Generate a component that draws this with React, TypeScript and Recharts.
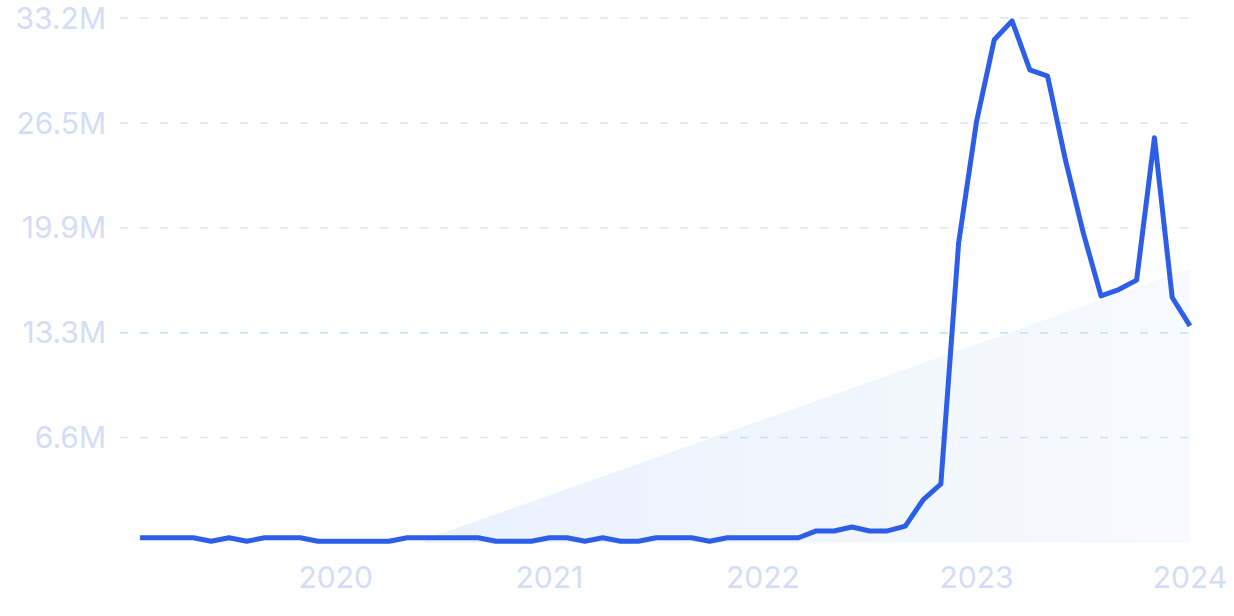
import { Area, CartesianGrid, ComposedChart, Line, ReferenceLine, XAxis, YAxis } from 'recharts';

// monthly points, Feb 2019 .. Jan 2024
const months = [
  '2019-02', '2019-03', '2019-04', '2019-05', '2019-06', '2019-07', '2019-08', '2019-09', '2019-10', '2019-11', '2019-12',
  '2020-01', '2020-02', '2020-03', '2020-04', '2020-05', '2020-06', '2020-07', '2020-08', '2020-09', '2020-10', '2020-11', '2020-12',
  '2021-01', '2021-02', '2021-03', '2021-04', '2021-05', '2021-06', '2021-07', '2021-08', '2021-09', '2021-10', '2021-11', '2021-12',
  '2022-01', '2022-02', '2022-03', '2022-04', '2022-05', '2022-06', '2022-07', '2022-08', '2022-09', '2022-10', '2022-11', '2022-12',
  '2023-01', '2023-02', '2023-03', '2023-04', '2023-05', '2023-06', '2023-07', '2023-08', '2023-09', '2023-10', '2023-11', '2023-12',
  '2024-01',
];

// values in millions
const values = [
  0.3, 0.3, 0.3, 0.3, 0.08, 0.3, 0.08, 0.3, 0.3, 0.3, 0.08,
  0.08, 0.08, 0.08, 0.08, 0.3, 0.3, 0.3, 0.3, 0.3, 0.08, 0.08, 0.08,
  0.3, 0.3, 0.08, 0.3, 0.08, 0.08, 0.3, 0.3, 0.3, 0.08, 0.3, 0.3,
  0.3, 0.3, 0.3, 0.73, 0.73, 0.98, 0.73, 0.73, 1.04, 2.69, 3.7, 18.96,
  26.6, 31.8, 33.0, 29.9, 29.5, 24.2, 19.6, 15.6, 16.0, 16.6, 25.6, 15.5,
  13.7,
];

// trend band: start and end of the shaded wedge
const trendStartIndex = 16;
const trendStart = 0.2;
const trendEndIndex = 59;
const trendEnd = 17.33;

const yTicks = [6.636, 13.272, 19.908, 26.544, 33.18];
const yearTicks = ['2020-01', '2021-01', '2022-01', '2023-01', '2024-01'];

const data = months.map((month, i) => ({
  month,
  value: values[i],
  trend: i === trendStartIndex ? trendStart : i === trendEndIndex ? trendEnd : null,
}));

const tickStyle = { fill: '#d3ddf5', fontSize: 30, fontFamily: 'Inter, sans-serif' };

export default function App() {
  return (
    <div>
      <style>{'body{margin:0}'}</style>
      <ComposedChart width={1234} height={616} data={data} margin={{ top: 18, right: 44, bottom: 23.5, left: 0 }}>
        <defs>
          <linearGradient id="trendFill" gradientUnits="userSpaceOnUse" x1={416} y1={0} x2={1190} y2={0}>
            <stop offset="0%" stopColor="#3c82eb" stopOpacity={0.11} />
            <stop offset="100%" stopColor="#3c82eb" stopOpacity={0.04} />
          </linearGradient>
        </defs>
        <CartesianGrid
          vertical={false}
          horizontalValues={yTicks}
          stroke="#dce4f7"
          strokeWidth={1.5}
          strokeDasharray="8 12"
        />
        <ReferenceLine y={13.272} stroke="#c6e5fa" strokeWidth={1.5} strokeDasharray="8 12" />
        <XAxis
          dataKey="month"
          ticks={yearTicks}
          interval={0}
          tickFormatter={(v: string) => v.slice(0, 4)}
          axisLine={false}
          tickLine={false}
          tickSize={0}
          tickMargin={24}
          height={50}
          padding={{ left: 20, right: 0 }}
          tick={tickStyle}
        />
        <YAxis
          domain={[0, 33.18]}
          ticks={yTicks}
          interval={0}
          tickFormatter={(v: number) => `${v.toFixed(1)}M`}
          axisLine={false}
          tickLine={false}
          tickSize={0}
          tickMargin={14}
          width={120}
          tick={tickStyle}
        />
        <Area
          dataKey="trend"
          type="linear"
          connectNulls
          stroke="none"
          fill="url(#trendFill)"
          fillOpacity={1}
          dot={false}
          activeDot={false}
          isAnimationActive={false}
        />
        <Line
          dataKey="value"
          type="linear"
          stroke="#2d5ee8"
          strokeWidth={5}
          strokeLinejoin="round"
          dot={false}
          activeDot={false}
          isAnimationActive={false}
        />
      </ComposedChart>
    </div>
  );
}
